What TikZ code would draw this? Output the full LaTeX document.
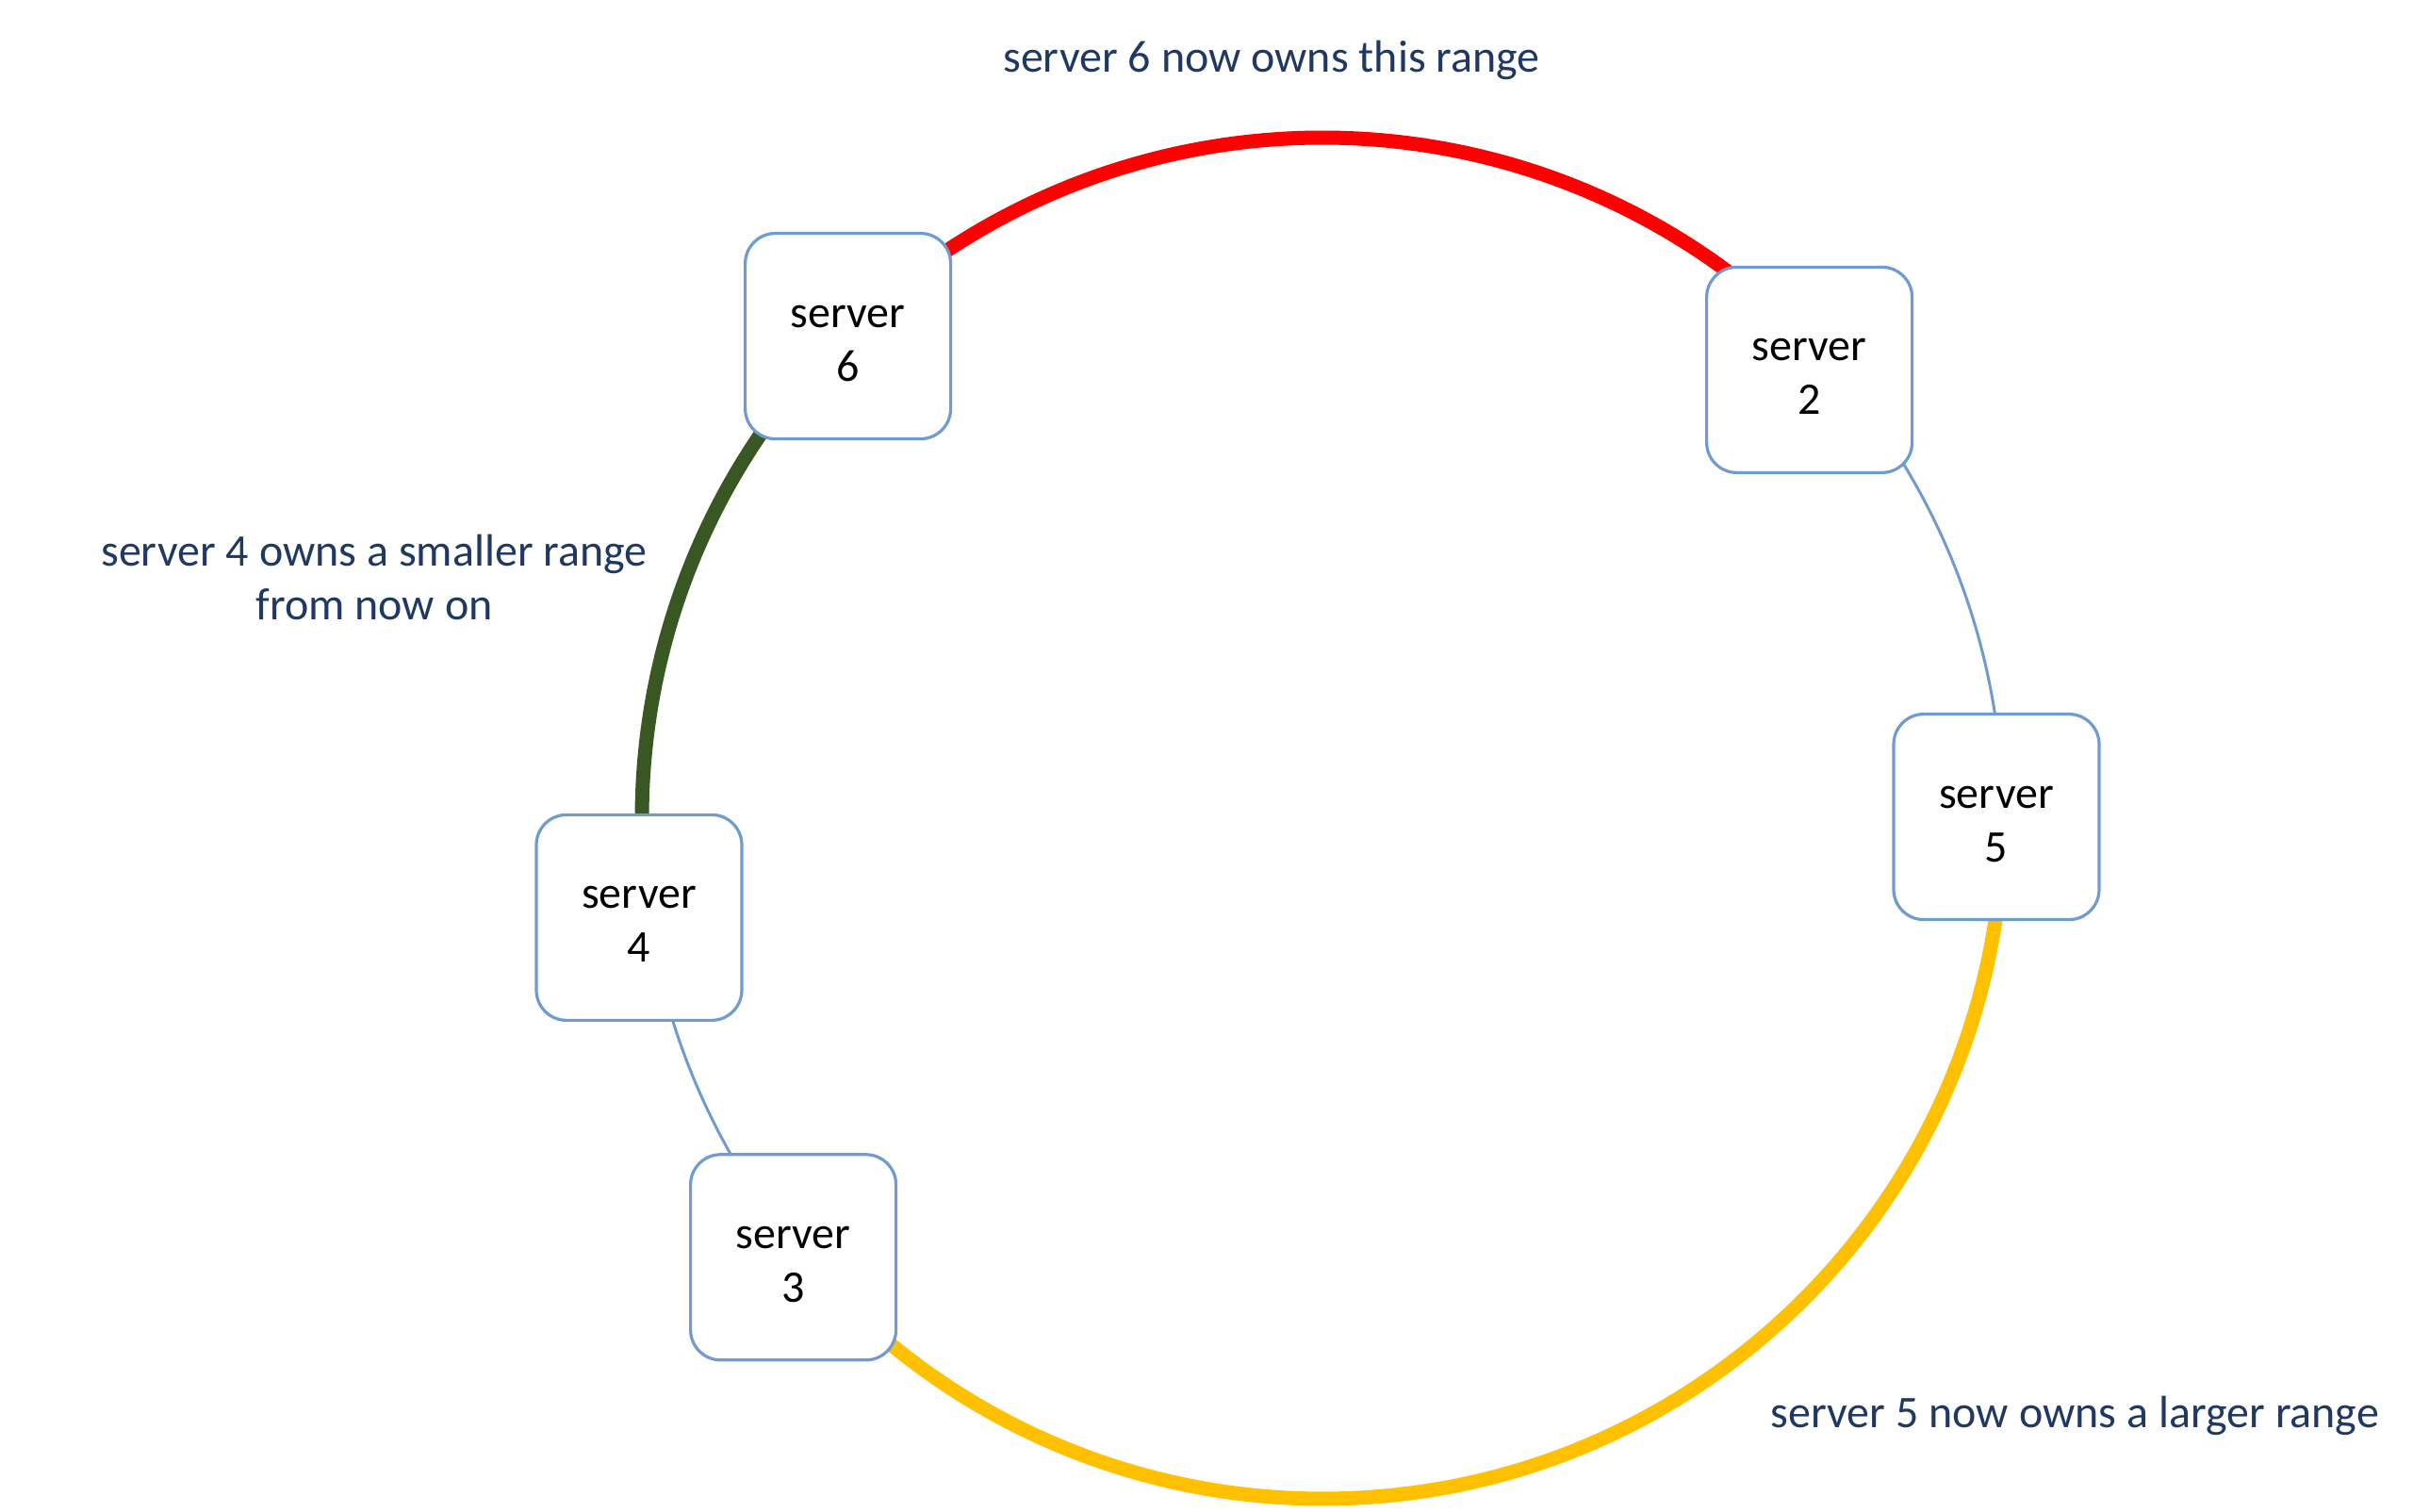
\documentclass[tikz,border=0pt]{standalone}
\usepackage{fontspec}
\setmainfont{Carlito}
\usetikzlibrary{backgrounds,calc}
\definecolor{boxblue}{RGB}{112,155,208}
\definecolor{navy}{RGB}{31,56,100}
\definecolor{darkgreen}{RGB}{56,87,35}
\definecolor{ringyellow}{RGB}{255,192,0}
\definecolor{ringred}{RGB}{255,0,0}
\tikzset{
  serverbox/.style={draw=boxblue, line width=1.6pt, fill=white, rounded corners=16pt,
    minimum width=109pt, minimum height=109pt, inner sep=0pt, align=center,
    text height=47.5pt, text depth=0pt,
    font=\fontsize{24}{28.5}\selectfont, text=black},
  note/.style={text=navy, align=center, font=\fontsize{24}{28.5}\selectfont, inner sep=0pt},
  thinarc/.style={draw=boxblue, line width=1.5pt},
  thickarc/.style={line width=7.5pt}
}
\begin{document}
\begin{tikzpicture}
\useasboundingbox (0,0) rectangle (1280pt,802pt);
\coordinate (c) at (701.5pt,368pt);
\def\R{361pt}
% points on the ring hidden under the boxes
\coordinate (p6) at ($(c)+(134.55:\R)$);
\coordinate (p2) at ($(c)+(42.63:\R)$);
\coordinate (p5) at ($(c)+(0.11:\R)$);
\coordinate (p4) at ($(c)+(188.27:\R)$);
\coordinate (p3) at ($(c)+(219.68:\R)$);
\node[serverbox] (s6) at (449.8pt,623.7pt) {server\\6};
\node[serverbox] (s2) at (959.8pt,605.8pt) {server\\2};
\node[serverbox] (s5) at (1059pt,368.7pt) {server\\5};
\node[serverbox] (s4) at (339pt,315.3pt) {server\\4};
\node[serverbox] (s3) at (420.8pt,135.1pt) {server\\3};
\begin{scope}[on background layer]
\draw[thickarc, ringred] (p6) arc[start angle=134.55, end angle=42.63, radius=\R];
\draw[thinarc] (p2) arc[start angle=42.63, end angle=0.11, radius=\R];
\draw[thickarc, ringyellow] (p5) arc[start angle=0.11, end angle=-140.32, radius=\R];
\draw[thinarc] (p3) arc[start angle=219.68, end angle=188.27, radius=\R];
\draw[thickarc, darkgreen] (p4) arc[start angle=188.27, end angle=134.55, radius=\R];
\end{scope}
\node[note] (t6) at (674.5pt,769.9pt) {server 6 now owns this range};
\node[note] (t4) at (198.5pt,495.5pt) {server 4 owns a smaller range\\from now on};
\node[note] (t5) at (1100.7pt,51.2pt) {server 5 now owns a larger range};
\end{tikzpicture}
\end{document}
